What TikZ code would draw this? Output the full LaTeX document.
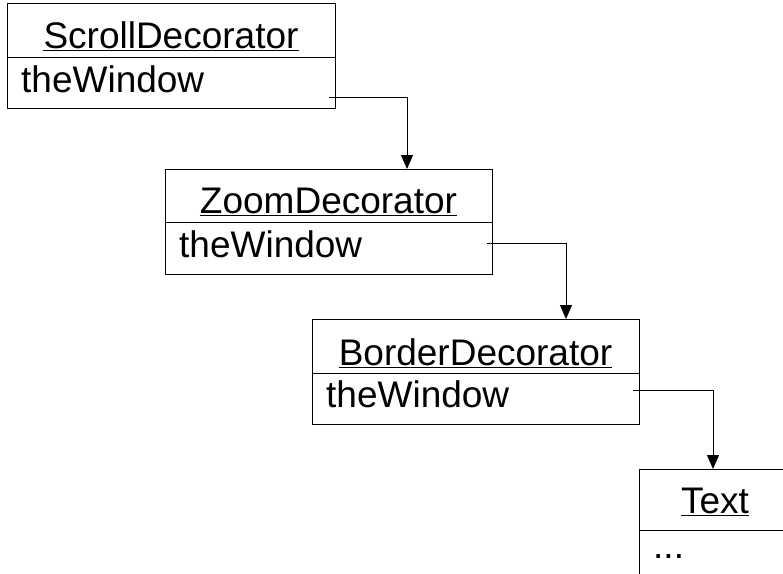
\documentclass[tikz,border=0pt]{standalone}
\usepackage{fontspec}
\setmainfont{Liberation Sans}
\usetikzlibrary{arrows.meta}
\begin{document}
\begin{tikzpicture}[x=1pt,y=-1pt,
  classbox/.style={draw=black,line width=1pt,rectangle,inner sep=0pt,minimum height=105pt,anchor=north west},
  ttl/.style={anchor=base,inner sep=0pt,font=\fontsize{37}{44}\selectfont},
  attr/.style={anchor=base west,inner sep=0pt,font=\fontsize{37}{44}\selectfont},
  uline/.style={line width=1.6pt},
  divider/.style={line width=1pt},
  conn/.style={line width=1pt,-{Triangle[length=14pt,width=12pt]}}]
\useasboundingbox (0,0) rectangle (783,573);
% boxes
\node[classbox,minimum width=328pt] (b1) at (7,3) {};
\node[classbox,minimum width=327pt] (b2) at (165,169) {};
\node[classbox,minimum width=327pt] (b3) at (312,319) {};
\node[classbox,minimum width=152pt,minimum height=130pt] (b4) at (639,469) {};
% dividers
\draw[divider] (7,57) -- (335,57);
\draw[divider] (165,222) -- (492,222);
\draw[divider] (312,373) -- (639,373);
\draw[divider] (639,530) -- (791,530);
% titles
\node[ttl] (t1) at (171,48) {ScrollDecorator};
\node[ttl] (t2) at (328.5,213) {ZoomDecorator};
\node[ttl] (t3) at (475.5,365) {BorderDecorator};
\node[ttl] (t4) at (715,513) {Text};
\foreach \t in {t1,t2,t3,t4}{
  \draw[uline] ([yshift=-2.5pt]\t.base west) -- ([yshift=-2.5pt]\t.base east);
}
% attributes
\node[attr] (a1) at (21,92) {theWindow};
\node[attr] (a2) at (179,257) {theWindow};
\node[attr] (a3) at (326,407) {theWindow};
\node[attr] (a4) at (653,558) {...};
% connectors
\coordinate (s1) at (329,97);
\coordinate (e1) at (407,169);
\coordinate (s2) at (487,243);
\coordinate (e2) at (566,319);
\coordinate (s3) at (633,390);
\coordinate (e3) at (713,469);
\draw[conn] (s1) -| (e1);
\draw[conn] (s2) -| (e2);
\draw[conn] (s3) -| (e3);
\end{tikzpicture}
\end{document}
